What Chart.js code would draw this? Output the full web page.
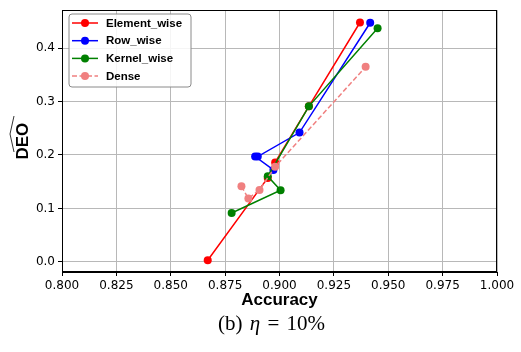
<!DOCTYPE html>
<html>
<head>
<meta charset="utf-8">
<script src="https://cdn.jsdelivr.net/npm/chart.js@4.4.1/dist/chart.umd.min.js"></script>
<style>
  html, body { margin: 0; padding: 0; background: #fff; }
  #wrap { position: relative; width: 521px; height: 352px; }
  #c { position: absolute; left: 0; top: 0; }
  #cap { position: absolute; left: 0; width: 543px; top: 311px; text-align: center;
         font-family: "Liberation Serif", "DejaVu Serif", serif; font-size: 21px; color: #000;
         word-spacing: 2px; }
  #cap i { font-style: italic; }
</style>
</head>
<body>
<div id="wrap">
  <canvas id="c" width="521" height="352"></canvas>
  <div id="cap">(b) <i>η</i> = 10%</div>
</div>
<script>
// ---- data ----
const seriesNames = ["Element_wise", "Row_wise", "Kernel_wise", "Dense"];
const elementAcc = [0.867, 0.8946, 0.898, 0.9135, 0.937];
const elementDeo = [0.003, 0.157, 0.186, 0.291, 0.448];
const rowAcc = [0.8972, 0.8888, 0.8900, 0.9092, 0.9417];
const rowDeo = [0.172, 0.197, 0.197, 0.242, 0.4475];
const kernelAcc = [0.878, 0.9005, 0.8946, 0.9135, 0.9451];
const kernelDeo = [0.0914, 0.134, 0.160, 0.291, 0.437];
const denseAcc = [0.8825, 0.8857, 0.8908, 0.898, 0.9396];
const denseDeo = [0.1414, 0.1185, 0.1346, 0.178, 0.365];
const xTicks = [0.8, 0.825, 0.85, 0.875, 0.9, 0.925, 0.95, 0.975, 1.0];
const yTicks = [0.0, 0.1, 0.2, 0.3, 0.4];

const pts = (xs, ys) => xs.map((x, i) => ({x: x, y: ys[i]}));
const colors = ["#ff0000", "#0000ff", "#008000", "#f08080"];
const dashes = [[], [], [], [5, 2.5]];
const xsAll = [elementAcc, rowAcc, kernelAcc, denseAcc];
const ysAll = [elementDeo, rowDeo, kernelDeo, denseDeo];

const datasets = seriesNames.map((name, i) => ({
  label: name,
  data: pts(xsAll[i], ysAll[i]),
  borderColor: colors[i],
  backgroundColor: colors[i],
  pointBackgroundColor: colors[i],
  pointBorderColor: colors[i],
  pointRadius: 4,
  pointBorderWidth: 0,
  borderWidth: 1.5,
  borderDash: dashes[i],
  showLine: true,
  tension: 0,
  order: 3 - i
}));

const frameLegendPlugin = {
  id: 'frameLegend',
  afterDraw(chart) {
    const ctx = chart.ctx;
    const a = chart.chartArea;
    ctx.save();
    // frame
    ctx.strokeStyle = '#000';
    ctx.lineWidth = 1;
    ctx.strokeRect(Math.round(a.left) + 0.5, Math.round(a.top) + 0.5,
                   Math.round(a.right - a.left) - 1, Math.round(a.bottom - a.top) - 1);
    // legend box
    const bx = 69, by = 14, bw = 122, bh = 73, r = 3;
    ctx.beginPath();
    ctx.moveTo(bx + r, by);
    ctx.lineTo(bx + bw - r, by);
    ctx.quadraticCurveTo(bx + bw, by, bx + bw, by + r);
    ctx.lineTo(bx + bw, by + bh - r);
    ctx.quadraticCurveTo(bx + bw, by + bh, bx + bw - r, by + bh);
    ctx.lineTo(bx + r, by + bh);
    ctx.quadraticCurveTo(bx, by + bh, bx, by + bh - r);
    ctx.lineTo(bx, by + r);
    ctx.quadraticCurveTo(bx, by, bx + r, by);
    ctx.closePath();
    ctx.fillStyle = 'rgba(255,255,255,0.85)';
    ctx.fill();
    ctx.strokeStyle = '#8a8a8a';
    ctx.lineWidth = 1;
    ctx.stroke();
    chart.data.datasets.forEach((ds, i) => {
      const y = 23 + i * 17.7;
      ctx.strokeStyle = ds.borderColor;
      ctx.lineWidth = 1.5;
      ctx.setLineDash(ds.borderDash || []);
      ctx.beginPath();
      ctx.moveTo(72, y);
      ctx.lineTo(98, y);
      ctx.stroke();
      ctx.setLineDash([]);
      ctx.fillStyle = ds.backgroundColor;
      ctx.beginPath();
      ctx.arc(85, y, 4, 0, Math.PI * 2);
      ctx.fill();
      ctx.fillStyle = '#000';
      ctx.font = 'bold 11.5px "Liberation Sans", Arial, sans-serif';
      ctx.textBaseline = 'middle';
      ctx.textAlign = 'left';
      ctx.fillText(ds.label, 106, y + 0.5);
    });
    // wide hat over the y-axis label
    ctx.strokeStyle = '#000';
    ctx.lineWidth = 0.8;
    ctx.beginPath();
    ctx.moveTo(14, 116);
    ctx.lineTo(10, 134);
    ctx.lineTo(14, 152);
    ctx.stroke();
    ctx.restore();
  }
};

new Chart(document.getElementById('c'), {
  type: 'scatter',
  data: { datasets: datasets },
  options: {
    responsive: false,
    animation: false,
    layout: { padding: { left: 0, top: 7, right: 24, bottom: 35 } },
    plugins: { legend: { display: false }, tooltip: { enabled: false } },
    scales: {
      x: {
        type: 'linear', min: 0.8, max: 1.0,
        afterBuildTicks: s => { s.ticks = xTicks.map(v => ({value: v})); },
        afterFit: s => { s.height = 45; },
        ticks: { color: '#000', font: { family: '"DejaVu Sans"', size: 12 }, padding: 3,
                 maxRotation: 0, autoSkip: false, callback: v => v.toFixed(3) },
        grid: { color: '#b8b8b8', lineWidth: 1, tickColor: '#000', tickLength: 4, drawTicks: true },
        border: { color: '#000', width: 1 },
        title: { display: true, text: 'Accuracy', color: '#000',
                 font: { family: '"Liberation Sans", Arial, sans-serif', size: 17, weight: 'bold' },
                 padding: { top: 0, bottom: 6 } }
      },
      y: {
        type: 'linear', min: -0.019, max: 0.471,
        afterBuildTicks: s => { s.ticks = yTicks.map(v => ({value: v})); },
        afterFit: s => { s.width = 62; },
        ticks: { color: '#000', font: { family: '"DejaVu Sans"', size: 12 }, padding: 3,
                 autoSkip: false, callback: v => v.toFixed(1) },
        grid: { color: '#b8b8b8', lineWidth: 1, tickColor: '#000', tickLength: 4, drawTicks: true },
        border: { color: '#000', width: 1 },
        title: { display: true, text: 'DEO', color: '#000',
                 font: { family: '"Liberation Sans", Arial, sans-serif', size: 17, weight: 'bold' },
                 padding: { top: 13, bottom: 0 } }
      }
    }
  },
  plugins: [frameLegendPlugin]
});
</script>
</body>
</html>
